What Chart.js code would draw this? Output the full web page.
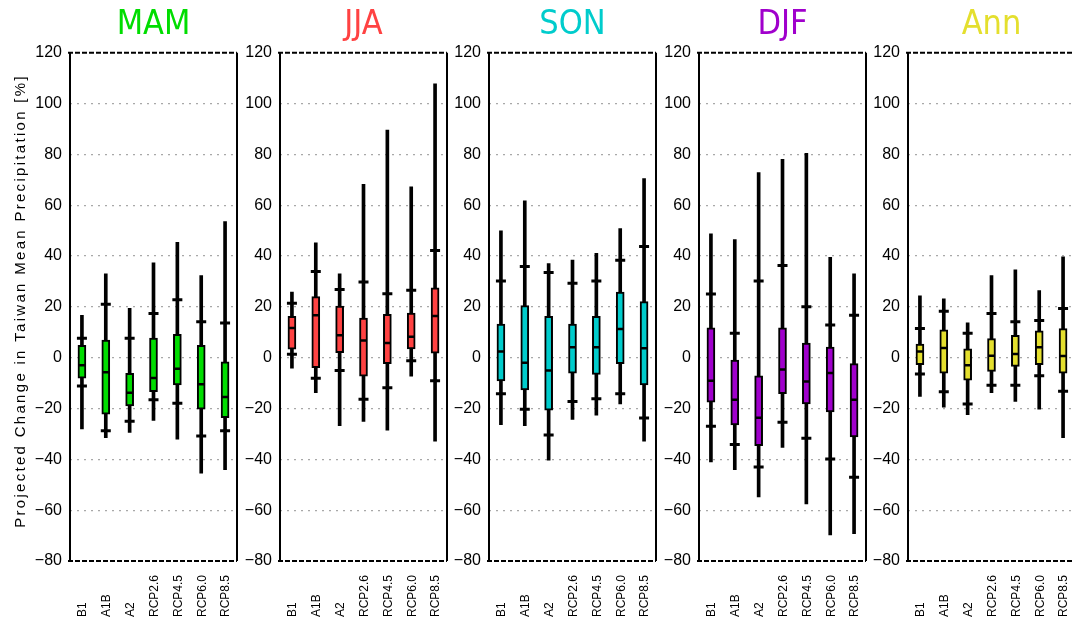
<!DOCTYPE html>
<html>
<head>
<meta charset="utf-8">
<script src="https://cdn.jsdelivr.net/npm/chart.js@4.4.1/dist/chart.umd.min.js"></script>
<style>
  html, body { margin: 0; padding: 0; background: #fff; overflow: hidden; }
  body { width: 1073px; height: 623px; position: relative; }
  .panel { position: absolute; top: 0; height: 623px; }
</style>
</head>
<body>
<div class="panel" id="p0"><canvas id="c0"></canvas></div>
<div class="panel" id="p1"><canvas id="c1"></canvas></div>
<div class="panel" id="p2"><canvas id="c2"></canvas></div>
<div class="panel" id="p3"><canvas id="c3"></canvas></div>
<div class="panel" id="p4"><canvas id="c4"></canvas></div>
<script>
// scenarios on the x axis
let scenarios = ['B1', 'A1B', 'A2', 'RCP2.6', 'RCP4.5', 'RCP6.0', 'RCP8.5'];
let seasons = ['MAM', 'JJA', 'SON', 'DJF', 'Ann'];
let yTicks = [-80, -60, -40, -20, 0, 20, 40, 60, 80, 100, 120];
let yTitle = 'Projected Change in Taiwan Mean Precipitation [%]';

// MAM
let mamMax = [16.7, 33.0, 19.4, 37.3, 45.4, 32.3, 53.6];
let mamP90 = [7.7, 21.0, 7.7, 17.4, 22.8, 14.2, 13.7];
let mamQ3  = [4.9, 6.9, -6.1, 7.7, 9.2, 4.9, -1.6];
let mamMed = [-3.0, -5.7, -13.8, -8.0, -4.3, -10.4, -15.5];
let mamQ1  = [-8.0, -22.2, -19.0, -13.4, -10.7, -20.2, -23.6];
let mamP10 = [-11.1, -28.7, -25.0, -16.5, -17.9, -30.8, -28.7];
let mamMin = [-28.0, -31.5, -29.4, -24.7, -32.1, -45.4, -44.1];

// JJA
let jjaMax = [25.8, 45.2, 33.0, 68.2, 89.6, 67.3, 107.8];
let jjaP90 = [21.4, 33.9, 26.8, 29.8, 25.2, 26.6, 42.2];
let jjaQ3  = [16.3, 24.1, 20.3, 15.6, 17.1, 17.6, 27.5];
let jjaMed = [11.7, 16.7, 8.8, 6.8, 5.8, 8.3, 16.4];
let jjaQ1  = [3.4, -3.9, 2.0, -7.3, -2.3, 3.5, 1.8];
let jjaP10 = [1.4, -8.1, -5.0, -16.3, -11.8, -1.2, -9.1];
let jjaMin = [-4.1, -13.8, -26.7, -25.1, -28.5, -7.3, -32.8];

// SON
let sonMax = [49.9, 61.7, 37.0, 38.4, 41.1, 50.8, 70.5];
let sonP90 = [30.2, 35.9, 33.5, 29.3, 30.2, 38.4, 43.8];
let sonQ3  = [13.2, 20.5, 16.3, 13.2, 16.3, 25.8, 22.1];
let sonMed = [2.4, -2.0, -5.0, 4.1, 4.1, 11.3, 3.7];
let sonQ1  = [-9.1, -12.7, -20.6, -6.1, -6.6, -2.3, -10.7];
let sonP10 = [-14.2, -20.3, -30.4, -17.2, -16.1, -14.2, -23.7];
let sonMin = [-26.3, -26.7, -40.3, -24.3, -22.6, -18.2, -32.8];

// DJF
let djfMax = [48.8, 46.5, 72.9, 78.1, 80.4, 39.5, 33.0];
let djfP90 = [25.1, 9.6, 30.2, 36.3, 20.1, 12.9, 16.7];
let djfQ3  = [11.8, -0.9, -7.1, 11.8, 5.8, 4.2, -2.3];
let djfMed = [-9.1, -16.5, -23.6, -4.6, -9.4, -6.0, -16.5];
let djfQ1  = [-17.5, -26.4, -34.6, -14.1, -18.2, -21.3, -31.2];
let djfP10 = [-27.0, -34.2, -43.0, -25.4, -31.7, -39.9, -47.0];
let djfMin = [-41.0, -44.1, -54.8, -35.3, -57.5, -69.7, -69.2];

// Ann
let annMax = [24.4, 23.2, 13.7, 32.3, 34.6, 26.4, 39.7];
let annP90 = [11.5, 18.3, 9.6, 17.4, 14.2, 14.6, 19.4];
let annQ3  = [5.4, 11.0, 3.5, 7.5, 8.8, 10.6, 11.5];
let annMed = [2.4, 3.8, -3.0, 0.8, 1.5, 4.1, 0.7];
let annQ1  = [-2.7, -6.1, -8.8, -5.4, -3.4, -2.7, -6.1];
let annP10 = [-6.4, -13.4, -18.2, -10.8, -10.8, -7.1, -13.2];
let annMin = [-15.2, -19.5, -22.4, -13.8, -17.2, -20.2, -31.5];

let stats = [
    [mamMin, mamP10, mamQ1, mamMed, mamQ3, mamP90, mamMax],
    [jjaMin, jjaP10, jjaQ1, jjaMed, jjaQ3, jjaP90, jjaMax],
    [sonMin, sonP10, sonQ1, sonMed, sonQ3, sonP90, sonMax],
    [djfMin, djfP10, djfQ1, djfMed, djfQ3, djfP90, djfMax],
    [annMin, annP10, annQ1, annMed, annQ3, annP90, annMax]
];
let colors = ['#00dd00', '#ff4242', '#00cccc', '#a000cc', '#e4df2e'];

let plotW = 167;
let rightPad = 3;
let fudge = 5; // chart area came out 5px narrower than the box

// frame: solid sides, dashed top and bottom
let framePlugin = {
    id: 'frame',
    afterDatasetsDraw(chart){
        let a = chart.chartArea;
        let ctx = chart.ctx;
        ctx.save();
        ctx.strokeStyle = '#000';
        ctx.lineWidth = 2;
        ctx.beginPath();
        ctx.moveTo(a.left, a.top); ctx.lineTo(a.left, a.bottom);
        ctx.moveTo(a.right, a.top); ctx.lineTo(a.right, a.bottom);
        ctx.stroke();
        ctx.setLineDash([5, 2]);
        ctx.beginPath();
        ctx.moveTo(a.left - 2, a.top); ctx.lineTo(a.right, a.top);
        ctx.moveTo(a.left - 2, a.bottom); ctx.lineTo(a.right, a.bottom);
        ctx.stroke();
        ctx.restore();
    }
};

// rotated scenario labels, anchored at the bottom
let xLabelPlugin = {
    id: 'xlabels',
    afterDraw(chart){
        let ctx = chart.ctx;
        let xs = chart.scales.x;
        ctx.save();
        ctx.fillStyle = '#000';
        ctx.font = '12px "Liberation Sans", Arial, sans-serif';
        ctx.textAlign = 'left';
        ctx.textBaseline = 'middle';
        for(let i = 0; i < scenarios.length; i++){
            ctx.save();
            ctx.translate(xs.getPixelForValue(i) + 1, 617);
            ctx.rotate(-Math.PI / 2);
            ctx.fillText(scenarios[i], 0, 0);
            ctx.restore();
        }
        ctx.restore();
    }
};

// y title with letter spacing (first panel only)
let yTitlePlugin = {
    id: 'ytitle',
    afterDraw(chart){
        if(chart.canvas.id !== 'c0') return;
        let ctx = chart.ctx;
        ctx.save();
        ctx.translate(21, 301);
        ctx.rotate(-Math.PI / 2);
        ctx.fillStyle = '#000';
        ctx.font = '15px "Liberation Sans", Arial, sans-serif';
        ctx.letterSpacing = '2.3px';
        ctx.textAlign = 'center';
        ctx.textBaseline = 'middle';
        ctx.fillText(yTitle, 0, 0);
        ctx.restore();
    }
};

for(let p = 0; p < 5; p++){

    let s = stats[p];
    let plotLeft = 70 + 209.6 * p;
    let axisW = p === 0 ? 70 : 45;
    let div = document.getElementById('p' + p);
    div.style.left = (plotLeft - axisW) + 'px';
    div.style.width = (axisW + plotW + rightPad + fudge) + 'px';

    let whisker = [];
    let box = [];
    for(let i = 0; i < scenarios.length; i++){
        whisker.push([s[0][i], s[6][i]]);
        box.push([s[2][i], s[4][i]]);
    }

    let tickSet = function(values, radius, width, order){
        return {
            type: 'line',
            data: values,
            showLine: false,
            pointStyle: 'line',
            pointRadius: radius,
            pointHoverRadius: radius,
            pointBorderWidth: width,
            pointBorderColor: '#000',
            borderColor: '#000',
            order: order
        };
    };

    let options = {
        type: 'bar',
        data: {
            labels: scenarios,
            datasets: [
                {
                    data: whisker,
                    backgroundColor: '#000',
                    barThickness: 3,
                    grouped: false,
                    order: 5
                },
                {
                    data: box,
                    backgroundColor: colors[p],
                    borderColor: '#000',
                    borderWidth: 2,
                    borderSkipped: false,
                    barThickness: 8,
                    grouped: false,
                    order: 4
                },
                tickSet(s[5], 5, 3, 3),
                tickSet(s[1], 5, 3, 2),
                tickSet(s[3], 3.5, 2.5, 1)
            ]
        },
        options: {
            responsive: true,
            maintainAspectRatio: false,
            animation: false,
            layout: { padding: { left: 0, right: rightPad, top: 4, bottom: 0 } },
            plugins: {
                legend: { display: false },
                tooltip: { enabled: false },
                title: {
                    display: true,
                    text: seasons[p],
                    color: colors[p],
                    fullSize: false,
                    font: { family: '"Liberation Sans Narrow", "DejaVu Sans Condensed", sans-serif', size: 34, weight: 'normal' },
                    padding: { top: 1, bottom: 7 }
                }
            },
            scales: {
                x: {
                    grid: { display: false },
                    border: { display: false },
                    ticks: { display: false },
                    afterFit: function(scale){ scale.height = 62; }
                },
                y: {
                    min: -80,
                    max: 120,
                    afterBuildTicks: function(scale){
                        scale.ticks = yTicks.map(function(v){ return { value: v }; });
                    },
                    afterFit: function(scale){ scale.width = axisW; },
                    border: { display: false, dash: [2, 5] },
                    grid: {
                        drawTicks: false,
                        lineWidth: 1.3,
                        color: function(ctx){
                            let v = ctx.tick ? ctx.tick.value : 0;
                            return (v === 120 || v === -80) ? 'rgba(0,0,0,0)' : '#a8a8a8';
                        }
                    },
                    ticks: {
                        padding: 8,
                        color: '#000',
                        font: { family: '"Liberation Sans", Arial, sans-serif', size: 16 },
                        callback: function(v){ return String(v).replace('-', '\u2212'); }
                    }
                }
            }
        },
        plugins: [framePlugin, xLabelPlugin, yTitlePlugin]
    };

    new Chart(document.getElementById('c' + p), options);
}
</script>
</body>
</html>
